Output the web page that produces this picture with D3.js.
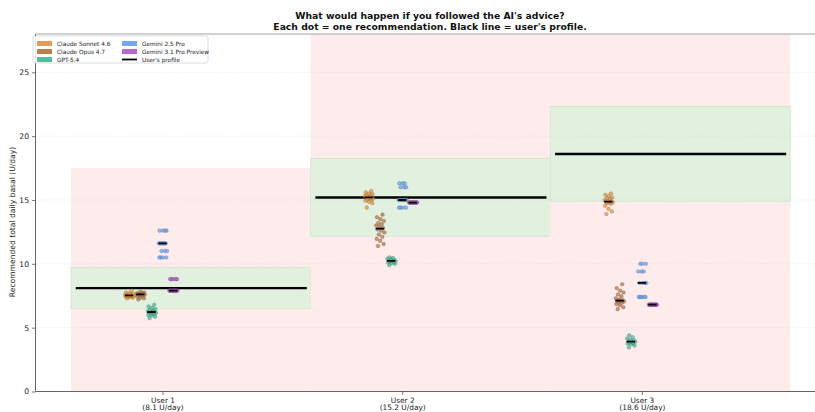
<!DOCTYPE html>
<html>
<head>
<meta charset="utf-8">
<script src="https://cdn.jsdelivr.net/npm/d3@7"></script>
<style>
  html, body { margin: 0; padding: 0; background: #fff; }
  svg { display: block; font-family: "DejaVu Sans", sans-serif; }
</style>
</head>
<body>
<svg id="chart" width="815" height="412"></svg>
<script>
// ---- data -------------------------------------------------------------
const users = ["User 1", "User 2", "User 3"];
const profileBasal = [8.1, 15.2, 18.6];           // U/day in each user's profile
const redZoneTop = [17.5, 28, 28];                 // upper edge of the shaded column
const models = ["Claude Sonnet 4.6", "Claude Opus 4.7", "GPT-5.4", "Gemini 2.5 Pro", "Gemini 3.1 Pro Preview"];
const modelColors = ["#e0954b", "#b5764a", "#4cb99a", "#6fa3ee", "#b45fc8"];
const yTicks = [0, 5, 10, 15, 20, 25];

// recommended total daily basal, one array per user
const sonnetDoses = [
  [7.30, 7.35, 7.40, 7.42, 7.45, 7.48, 7.50, 7.50, 7.52, 7.55, 7.55, 7.58, 7.60, 7.62, 7.65, 7.70, 7.75, 7.90],
  [14.40, 14.75, 14.85, 14.95, 15.00, 15.05, 15.10, 15.15, 15.20, 15.20, 15.25, 15.30, 15.35, 15.40, 15.45, 15.50, 15.60, 15.70],
  [13.90, 14.10, 14.30, 14.55, 14.70, 14.75, 14.80, 14.85, 14.85, 14.90, 14.95, 15.00, 15.10, 15.15, 15.20, 15.30, 15.40, 15.50]
];
const opusDoses = [
  [7.20, 7.30, 7.35, 7.45, 7.50, 7.55, 7.58, 7.60, 7.60, 7.62, 7.65, 7.68, 7.70, 7.72, 7.75, 7.80],
  [11.40, 11.55, 11.80, 11.95, 12.10, 12.30, 12.45, 12.60, 12.70, 12.80, 12.90, 13.00, 13.10, 13.20, 13.35, 13.50, 13.65, 13.85],
  [6.45, 6.60, 6.75, 6.85, 6.95, 7.00, 7.05, 7.10, 7.10, 7.15, 7.20, 7.30, 7.45, 7.60, 7.75, 7.90, 8.10, 8.40]
];
const gptDoses = [
  [5.75, 5.85, 5.95, 6.00, 6.05, 6.10, 6.15, 6.20, 6.20, 6.25, 6.25, 6.30, 6.35, 6.40, 6.45, 6.55, 6.65, 6.80],
  [9.90, 10.00, 10.05, 10.10, 10.15, 10.20, 10.20, 10.25, 10.25, 10.30, 10.35, 10.40, 10.45, 10.50],
  [3.45, 3.60, 3.70, 3.75, 3.80, 3.85, 3.90, 3.90, 3.95, 4.00, 4.05, 4.15, 4.25, 4.40]
];
const gemini25Doses = [
  [10.5, 10.5, 10.5, 10.5, 11.0, 11.0, 11.0, 11.6, 11.6, 11.6, 11.6, 11.6, 11.6, 11.6, 12.6, 12.6, 12.6, 12.6],
  [14.4, 14.4, 14.4, 14.4, 15.0, 15.0, 15.0, 15.0, 15.0, 15.0, 15.0, 15.0, 16.0, 16.0, 16.0, 16.3, 16.3, 16.3],
  [7.4, 7.4, 7.4, 7.4, 7.4, 7.4, 8.5, 8.5, 8.5, 8.5, 9.4, 9.4, 9.4, 10.0, 10.0, 10.0]
];
const gemini31Doses = [
  [7.9, 7.9, 7.9, 7.9, 7.9, 7.9, 7.9, 7.9, 7.9, 7.9, 7.9, 7.9, 7.9, 8.8, 8.8, 8.8, 8.8, 8.8],
  [14.8, 14.8, 14.8, 14.8, 14.8, 14.8, 14.8, 14.8, 14.8, 14.8, 14.8, 14.8, 14.8, 14.8, 14.8, 14.8],
  [6.8, 6.8, 6.8, 6.8, 6.8, 6.8, 6.8, 6.8, 6.8, 6.8, 6.8, 6.8, 6.8, 6.8, 6.8, 6.8]
];
const dosesByModel = [sonnetDoses, opusDoses, gptDoses, gemini25Doses, gemini31Doses];

// ---- layout -------------------------------------------------------------
const plot = { left: 35.5, right: 824, top: 34, bottom: 391.5 };
const modelOffset = [-0.14, -0.093, -0.046, 0, 0.044];   // x offset of each model inside a user column

const svg = d3.select("#chart");
const x = d3.scaleLinear().domain([-0.53, 2.76]).range([plot.left, plot.right]);
const y = d3.scaleLinear().domain([0, 28]).range([plot.bottom, plot.top]);

svg.append("defs").append("clipPath").attr("id", "plot-clip")
  .append("rect")
  .attr("x", plot.left).attr("y", plot.top)
  .attr("width", plot.right - plot.left).attr("height", plot.bottom - plot.top);

const area = svg.append("g").attr("clip-path", "url(#plot-clip)");

// shaded columns: outside tolerance (pink) and within ±20 % (green)
users.forEach((u, i) => {
  area.append("rect")
    .attr("x", x(i - 0.382)).attr("width", x(i + 0.619) - x(i - 0.382))
    .attr("y", y(redZoneTop[i])).attr("height", y(0) - y(redZoneTop[i]))
    .attr("fill", "#feeced");
  area.append("rect")
    .attr("x", x(i - 0.382)).attr("width", x(i + 0.619) - x(i - 0.382))
    .attr("y", y(profileBasal[i] * 1.2)).attr("height", y(profileBasal[i] * 0.8) - y(profileBasal[i] * 1.2))
    .attr("fill", "#e2f0df")
    .attr("stroke", "#d3e6cf").attr("stroke-width", 0.8);
});

// dotted horizontal grid
area.append("g").selectAll("line").data(yTicks).join("line")
  .attr("x1", plot.left).attr("x2", plot.right)
  .attr("y1", d => y(d)).attr("y2", d => y(d))
  .attr("stroke", "#bbb").attr("stroke-opacity", 0.45)
  .attr("stroke-width", 0.6).attr("stroke-dasharray", "1.2,1.6");

// user profile lines
area.append("g").selectAll("line").data(profileBasal).join("line")
  .attr("x1", (d, i) => x(i - 0.362)).attr("x2", (d, i) => x(i + 0.602))
  .attr("y1", d => y(d)).attr("y2", d => y(d))
  .attr("stroke", "#000").attr("stroke-width", 2.4);

// recommendation dots with a deterministic horizontal spread
const spread = 9;
const dotsG = area.append("g");
dosesByModel.forEach((perUser, m) => {
  const col = modelColors[m];
  const edge = d3.color(col).darker(1.1).formatHex();
  perUser.forEach((vals, u) => {
    const cx = x(u + modelOffset[m]);
    dotsG.append("g").selectAll("circle").data(vals).join("circle")
      .attr("cx", (d, k) => cx + (((k * 0.618034 + 0.29) % 1) - 0.5) * spread)
      .attr("cy", d => y(d))
      .attr("r", 1.8)
      .attr("fill", col).attr("fill-opacity", 0.72)
      .attr("stroke", edge).attr("stroke-opacity", 0.7).attr("stroke-width", 0.5);
  });
});

// per-model medians
const medG = area.append("g");
dosesByModel.forEach((perUser, m) => {
  perUser.forEach((vals, u) => {
    const cx = x(u + modelOffset[m]);
    const med = d3.median(vals);
    medG.append("line")
      .attr("x1", cx - 4.2).attr("x2", cx + 4.2)
      .attr("y1", y(med)).attr("y2", y(med))
      .attr("stroke", "#000").attr("stroke-width", 1.8);
  });
});

// ---- axes -----------------------------------------------------------------
const axisColor = "#555";
const yAxis = svg.append("g").attr("transform", `translate(${plot.left},0)`)
  .call(d3.axisLeft(y).tickValues(yTicks).tickSize(3.5).tickPadding(3));
yAxis.select(".domain").remove();
yAxis.selectAll(".tick line").attr("stroke", axisColor).attr("stroke-width", 0.8);
yAxis.selectAll(".tick text").attr("font-size", 7.6).attr("fill", "#222")
  .attr("font-family", "DejaVu Sans");

const xAxis = svg.append("g").attr("transform", `translate(0,${plot.bottom})`)
  .call(d3.axisBottom(x).tickValues(d3.range(users.length)).tickSize(3.5).tickFormat(() => ""));
xAxis.select(".domain").remove();
xAxis.selectAll(".tick line").attr("stroke", axisColor).attr("stroke-width", 0.8);
xAxis.selectAll(".tick").each(function (d, i) {
  const t = d3.select(this).append("text")
    .attr("fill", "#222").attr("font-size", 7.4).attr("text-anchor", "middle")
    .attr("font-family", "DejaVu Sans");
  t.append("tspan").attr("x", 0).attr("y", 11).text(users[i]);
  t.append("tspan").attr("x", 0).attr("y", 18.8).text(`(${profileBasal[i]} U/day)`);
});

// spines
const spines = svg.append("g").attr("stroke", axisColor).attr("stroke-width", 0.9);
spines.append("line").attr("x1", plot.left).attr("x2", plot.left).attr("y1", plot.top).attr("y2", plot.bottom);
spines.append("line").attr("x1", plot.left).attr("x2", plot.right).attr("y1", plot.bottom).attr("y2", plot.bottom);
spines.append("line").attr("x1", plot.left).attr("x2", plot.right).attr("y1", plot.top).attr("y2", plot.top).attr("stroke", "#999");

// axis label
svg.append("text")
  .attr("transform", "translate(13,222) rotate(-90)")
  .attr("text-anchor", "middle").attr("dominant-baseline", "middle")
  .attr("font-size", 7.6).attr("fill", "#222")
  .text("Recommended total daily basal (U/day)");

// title
const title = svg.append("text").attr("text-anchor", "middle")
  .attr("font-weight", "bold").attr("font-size", 9.25).attr("fill", "#111");
title.append("tspan").attr("x", 430).attr("y", 18.5).text("What would happen if you followed the AI's advice?");
title.append("tspan").attr("x", 430).attr("y", 29.5).text("Each dot = one recommendation. Black line = user's profile.");

// ---- legend -----------------------------------------------------------------
const legend = svg.append("g").attr("transform", "translate(33,36)");
legend.append("rect").attr("width", 175).attr("height", 27).attr("rx", 2)
  .attr("fill", "#fff").attr("fill-opacity", 0.85)
  .attr("stroke", "#ccc").attr("stroke-width", 0.7);
const legendItems = models.map((m, i) => ({ label: m, color: modelColors[i], kind: "patch" }))
  .concat([{ label: "User's profile", color: "#000", kind: "line" }]);
legendItems.forEach((item, i) => {
  const col = i < 3 ? 0 : 1;
  const row = i % 3;
  const g = legend.append("g").attr("transform", `translate(${4 + col * 85},${5 + row * 8})`);
  if (item.kind === "patch") {
    g.append("rect").attr("width", 15).attr("height", 5).attr("fill", item.color).attr("fill-opacity", 0.95);
  } else {
    g.append("line").attr("x1", 0).attr("x2", 15).attr("y1", 2.5).attr("y2", 2.5)
      .attr("stroke", "#000").attr("stroke-width", 1.8);
  }
  g.append("text").attr("x", 20).attr("y", 4.8).attr("font-size", 5.8).attr("fill", "#222")
    .text(item.label);
});
</script>
</body>
</html>
